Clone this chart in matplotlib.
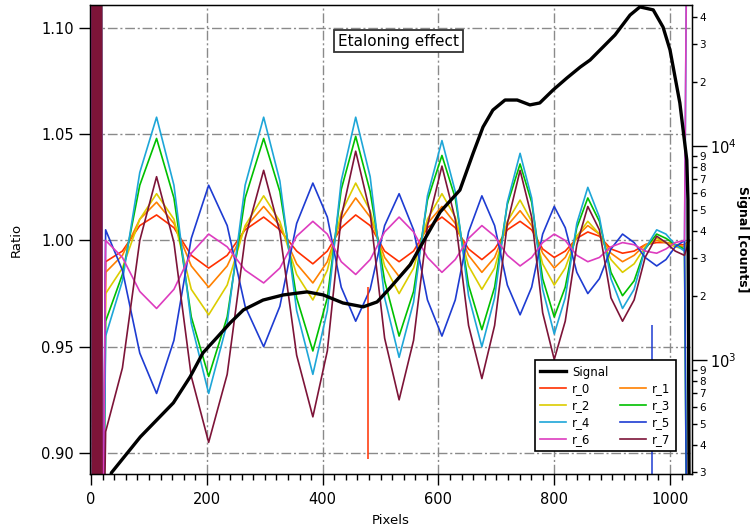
import numpy as np
import matplotlib.pyplot as plt
from matplotlib.ticker import MultipleLocator, FuncFormatter, LogLocator, LogFormatterMathtext
from matplotlib.lines import Line2D

# pixel positions where the ratio curves were read
px = [25, 54, 84, 113, 143, 173, 203, 235, 266, 298, 326, 355, 383, 408, 432,
      457, 482, 507, 532, 557, 581, 606, 629, 652, 675, 697, 719, 741, 761, 780,
      800, 819, 839, 858, 878, 898, 918, 938, 957, 977, 993, 1009, 1025]

r_0 = [0.990, 0.995, 1.007, 1.012, 1.006, 0.993, 0.987, 0.993, 1.005, 1.011, 1.005, 0.995, 0.989,
       0.995, 1.006, 1.012, 1.007, 0.995, 0.990, 0.995, 1.006, 1.011, 1.006, 0.996, 0.991, 0.996,
       1.005, 1.009, 1.005, 0.996, 0.992, 0.995, 1.001, 1.004, 1.002, 0.996, 0.994, 0.995, 0.998,
       0.999, 0.999, 0.998, 0.998]
r_1 = [0.985, 0.993, 1.010, 1.018, 1.008, 0.988, 0.978, 0.988, 1.006, 1.016, 1.007, 0.989, 0.980,
       0.990, 1.010, 1.020, 1.011, 0.992, 0.983, 0.991, 1.008, 1.016, 1.008, 0.993, 0.985, 0.992,
       1.007, 1.014, 1.007, 0.994, 0.987, 0.992, 1.002, 1.007, 1.003, 0.994, 0.990, 0.993, 0.998,
       1.000, 0.999, 0.998, 0.997]
r_2 = [0.975, 0.987, 1.010, 1.022, 1.010, 0.977, 0.965, 0.979, 1.007, 1.021, 1.009, 0.984, 0.972,
       0.986, 1.013, 1.027, 1.014, 0.988, 0.975, 0.987, 1.010, 1.022, 1.011, 0.988, 0.977, 0.987,
       1.009, 1.019, 1.009, 0.989, 0.979, 0.987, 1.002, 1.009, 1.003, 0.991, 0.985, 0.989, 0.997,
       1.001, 0.999, 0.997, 0.996]
r_3 = [0.962, 0.984, 1.026, 1.048, 1.020, 0.964, 0.936, 0.964, 1.020, 1.048, 1.023, 0.973, 0.948,
       0.973, 1.024, 1.049, 1.023, 0.981, 0.955, 0.976, 1.019, 1.040, 1.020, 0.979, 0.958, 0.978,
       1.017, 1.036, 1.018, 0.982, 0.964, 0.978, 1.006, 1.020, 1.009, 0.985, 0.974, 0.981, 0.996,
       1.003, 1.001, 0.998, 0.996]
r_4 = [0.955, 0.981, 1.032, 1.058, 1.026, 0.961, 0.928, 0.961, 1.026, 1.058, 1.028, 0.967, 0.937,
       0.967, 1.028, 1.058, 1.030, 0.973, 0.945, 0.971, 1.021, 1.047, 1.023, 0.974, 0.950, 0.973,
       1.018, 1.041, 1.020, 0.977, 0.956, 0.973, 1.008, 1.025, 1.011, 0.982, 0.968, 0.977, 0.996,
       1.005, 1.003, 0.998, 0.995]
r_5 = [1.005, 0.986, 0.947, 0.928, 0.953, 1.001, 1.026, 1.007, 0.969, 0.950, 0.969, 1.008, 1.027,
       1.011, 0.978, 0.962, 0.977, 1.007, 1.022, 1.005, 0.972, 0.955, 0.972, 1.004, 1.021, 1.007,
       0.979, 0.965, 0.978, 1.003, 1.016, 1.006, 0.985, 0.975, 0.982, 0.996, 1.003, 0.999, 0.992,
       0.988, 0.991, 0.997, 1.000]
r_6 = [1.000, 0.992, 0.976, 0.968, 0.977, 0.994, 1.003, 0.997, 0.986, 0.980, 0.987, 1.002, 1.009,
       1.003, 0.990, 0.984, 0.991, 1.004, 1.011, 1.004, 0.992, 0.985, 0.991, 1.001, 1.007, 1.002,
       0.993, 0.988, 0.992, 0.999, 1.003, 1.000, 0.993, 0.990, 0.992, 0.997, 0.999, 0.998, 0.995,
       0.994, 0.996, 0.999, 1.000]
r_7 = [0.910, 0.940, 1.000, 1.030, 0.999, 0.936, 0.905, 0.937, 1.001, 1.033, 1.004, 0.946, 0.917,
       0.948, 1.011, 1.042, 1.013, 0.954, 0.925, 0.953, 1.007, 1.035, 1.010, 0.960, 0.935, 0.960,
       1.008, 1.033, 1.011, 0.966, 0.944, 0.962, 0.998, 1.016, 1.005, 0.973, 0.962, 0.972, 0.992,
       1.002, 0.999, 0.995, 0.993]

# first pixels of every ratio trace are garbage (off scale)
start_px = [1, 3, 5, 7, 9, 11, 13, 15, 17, 19]
start_val = [1.3, 0.7, 1.3, 0.7, 1.3, 0.7, 1.3, 0.7, 1.3, 0.8]
# last pixel of each trace
end_px = 1033
end_val = [1.0, 1.0, 1.0, 0.7, 1.3, 0.7, 1.3, 1.0]

# single-pixel spikes (pixel, top, bottom)
spike_px = [478, 969]
spike_top = [0.978, 0.960]
spike_bot = [0.897, 0.850]
spike_trace = [0, 5]

sig_px = [30, 35, 85, 142, 171, 193, 218, 240, 263, 297, 332, 373, 401, 435, 470, 494, 516,
          551, 603, 637, 660, 677, 694, 715, 736, 758, 775, 798, 822, 845, 862, 905, 931,
          948, 971, 988, 1000, 1017, 1029, 1031, 1033]
signal = [250, 297, 437, 630, 834, 1078, 1279, 1489, 1713, 1905, 2013, 2080, 2013, 1846, 1771,
          1867, 2167, 2780, 4920, 6220, 9270, 12270, 14720, 16400, 16400, 15560, 15890, 18270,
          20800, 23390, 25230, 33040, 40930, 44670, 43260, 35940, 28120, 15890, 8600, 5600, 250]

names = ['r_0', 'r_1', 'r_2', 'r_3', 'r_4', 'r_5', 'r_6', 'r_7']
colors = ['#ff3000', '#ff8000', '#dccc00', '#00c000', '#1ea6d8', '#1e3cd2', '#dd3cbf', '#7d1438']
ratios = [r_0, r_1, r_2, r_3, r_4, r_5, r_6, r_7]

plt.rcParams['font.family'] = 'DejaVu Sans'

fig = plt.figure(figsize=(7.54, 5.31), dpi=100)
ax = fig.add_axes([90 / 754, 57 / 531, 602 / 754, 469 / 531])

handles = []
for i in range(8):
    xs = start_px + px + [end_px]
    ys = start_val + ratios[i] + [end_val[i]]
    ln, = ax.plot(xs, ys, color=colors[i], lw=1.2, label=names[i])
    handles.append(ln)
for k in range(len(spike_px)):
    ax.vlines(spike_px[k], spike_bot[k], spike_top[k], color=colors[spike_trace[k]], lw=1.1)

ax.set_xlim(-2, 1038)
ax.set_ylim(0.8901, 1.1108)
ax.xaxis.set_major_locator(MultipleLocator(200))
ax.xaxis.set_minor_locator(MultipleLocator(20))
ax.yaxis.set_major_locator(MultipleLocator(0.05))
ax.yaxis.set_major_formatter(FuncFormatter(lambda v, p: '%.2f' % v))
ax.tick_params(axis='both', which='major', direction='out', length=8, width=1, labelsize=10.5)
ax.tick_params(axis='x', which='major', pad=5)
ax.tick_params(axis='x', which='minor', direction='out', length=4.5, width=1)
ax.grid(True, which='major', color='#8a8a8a', linestyle=(0, (7, 2, 1.5, 2)), lw=1)
ax.set_xlabel('Pixels', fontsize=9.5, labelpad=5)
ax.set_ylabel('Ratio', fontsize=9.5, labelpad=13)
for s in ax.spines.values():
    s.set_linewidth(1)

ax2 = ax.twinx()
sig_ln, = ax2.plot(sig_px, signal, color='black', lw=2.4, label='Signal')
ax2.set_yscale('log')
ax2.set_ylim(293, 45600)
ax2.yaxis.set_major_locator(LogLocator(base=10))
ax2.yaxis.set_major_formatter(LogFormatterMathtext())
ax2.yaxis.set_minor_locator(LogLocator(base=10, subs=np.arange(2, 10)))
ax2.yaxis.set_minor_formatter(FuncFormatter(lambda v, p: '%d' % round(v / 10 ** np.floor(np.log10(v) + 1e-9))))
ax2.tick_params(axis='y', which='major', direction='out', length=11, width=1, labelsize=10.5, pad=2)
ax2.tick_params(axis='y', which='minor', direction='out', length=3.5, width=1, labelsize=7.5, pad=1.5)
ax2.set_ylabel('Signal [counts]', fontsize=9, fontweight='bold', rotation=270, labelpad=9)

blank = Line2D([], [], color='none')
leg_handles = [sig_ln, handles[0], handles[2], handles[4], handles[6],
               blank, handles[1], handles[3], handles[5], handles[7]]
leg_labels = ['Signal', 'r_0', 'r_2', 'r_4', 'r_6', '', 'r_1', 'r_3', 'r_5', 'r_7']
leg = ax2.legend(leg_handles, leg_labels, ncol=2, loc='lower right',
                 bbox_to_anchor=(0.973, 0.049), borderaxespad=0, fontsize=8.5, frameon=True,
                 fancybox=False, edgecolor='black', framealpha=1, handlelength=2.2,
                 handletextpad=0.5, columnspacing=1.0, labelspacing=0.32, borderpad=0.45)
leg.get_frame().set_linewidth(1.2)

ax2.text(0.512, 0.923, 'Etaloning effect', transform=ax2.transAxes, ha='center', va='center',
         fontsize=11, bbox=dict(boxstyle='square,pad=0.25', facecolor='white', edgecolor='#333333', lw=1.3))

fig.savefig('out.png', dpi=100)
